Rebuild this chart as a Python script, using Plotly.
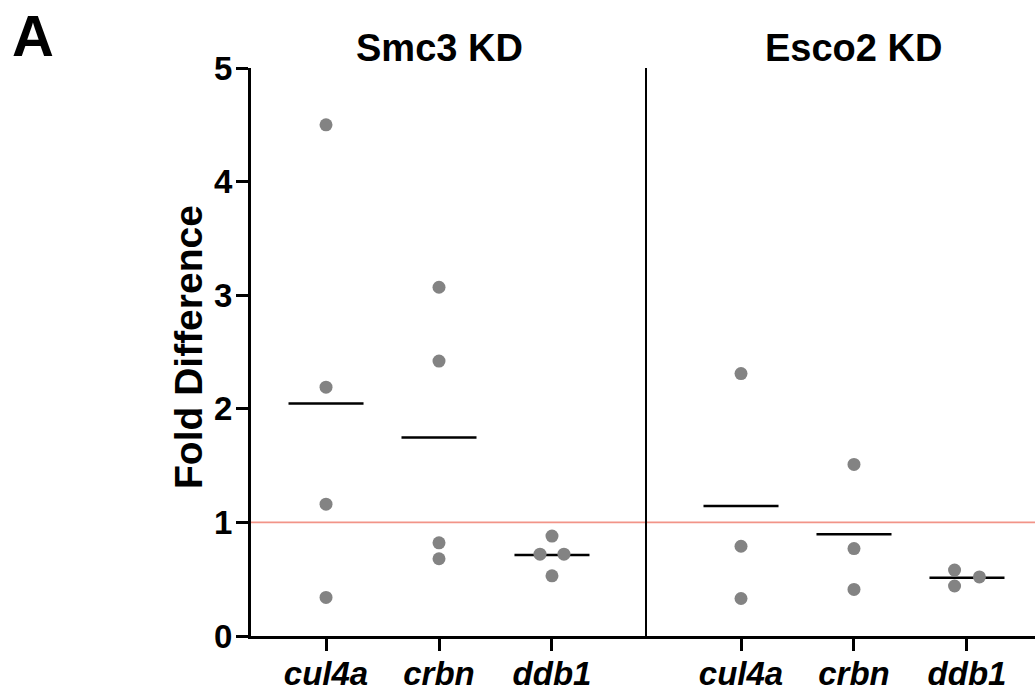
import numpy as np
import plotly.graph_objects as go

# ---- data ----
genes = ["cul4a", "crbn", "ddb1"]
panels = ["Smc3 KD", "Esco2 KD"]

smc3_cul4a = [4.50, 2.19, 1.16, 0.34]
smc3_crbn = [3.07, 2.42, 0.82, 0.68]
smc3_ddb1 = [0.88, 0.72, 0.72, 0.53]

esco2_cul4a = [2.31, 0.79, 0.33]
esco2_crbn = [1.51, 0.77, 0.41]
esco2_ddb1 = [0.58, 0.52, 0.44]

reference_level = 1.0
y_ticks = [0, 1, 2, 3, 4, 5]

# horizontal spread used for overlapping points (scatter-dot-plot style)
spread = {
    ("Smc3 KD", "ddb1"): [0, -0.106, 0.106, 0],
    ("Esco2 KD", "ddb1"): [-0.11, 0.11, -0.11],
}

series = {
    "Smc3 KD": [smc3_cul4a, smc3_crbn, smc3_ddb1],
    "Esco2 KD": [esco2_cul4a, esco2_crbn, esco2_ddb1],
}

# ---- style ----
FONT = "Liberation Sans, Arial, Helvetica, sans-serif"
DOT = "#838383"
BLACK = "#000000"
RED = "#F29488"
HALF = 0.332

fig = go.Figure()
axes = [("x", "y"), ("x2", "y2")]

for (xa, ya), panel in zip(axes, panels):
    vals_list = series[panel]
    # mean lines
    for i, vals in enumerate(vals_list):
        m = float(np.mean(vals))
        fig.add_trace(go.Scatter(
            x=[i - HALF, i + HALF], y=[m, m], mode="lines",
            line=dict(color=BLACK, width=2.5), xaxis=xa, yaxis=ya,
            showlegend=False, hoverinfo="skip"))
    # dots
    for i, (g, vals) in enumerate(zip(genes, vals_list)):
        offs = spread.get((panel, g), [0] * len(vals))
        fig.add_trace(go.Scatter(
            x=[i + o for o in offs], y=vals, mode="markers",
            marker=dict(color=DOT, size=13, line=dict(width=0)),
            xaxis=xa, yaxis=ya, showlegend=False, name=f"{panel} {g}"))

d = (647 - 251) / 784

tickfont_x = dict(family=FONT, size=33, color=BLACK, weight="bold", style="italic")
tickfont_y = dict(family=FONT, size=33, color=BLACK, weight="bold")

common_x = dict(
    tickmode="array", tickvals=[0, 1, 2], ticktext=genes,
    showline=True, linecolor=BLACK, linewidth=3,
    ticks="outside", ticklen=12, tickwidth=3, tickcolor=BLACK,
    showgrid=False, zeroline=False, tickfont=tickfont_x, fixedrange=True,
    automargin=False, ticklabelstandoff=-6,
)

fig.update_layout(
    width=1035, height=693,
    margin=dict(l=251, r=0, t=68, b=57, autoexpand=False),
    paper_bgcolor="white", plot_bgcolor="white",
    showlegend=False,
    xaxis=dict(domain=[0, d], range=[-0.664, 2.841], anchor="y", **common_x),
    xaxis2=dict(domain=[d, 1], range=[-0.832, 2.602], anchor="y2", **common_x),
    yaxis=dict(
        range=[0, 5], tickmode="array", tickvals=y_ticks,
        showline=True, linecolor=BLACK, linewidth=3,
        ticks="outside", ticklen=12, tickwidth=3, tickcolor=BLACK,
        showgrid=False, zeroline=False, tickfont=tickfont_y, anchor="x",
        automargin=False, ticklabelstandoff=-3,
    ),
    yaxis2=dict(
        range=[0, 5], showline=True, linecolor=BLACK, linewidth=2,
        showticklabels=False, ticks="", showgrid=False, zeroline=False,
        anchor="x2", automargin=False,
    ),
    shapes=[dict(
        type="line", xref="paper", x0=0, x1=1, yref="y",
        y0=reference_level, y1=reference_level,
        line=dict(color=RED, width=1.8), layer="below")],
)

# panel titles centred over middle category of each panel
for xa, panel in zip(["x", "x2"], panels):
    fig.add_annotation(text=panel, xref=xa, yref="paper", x=1, y=1,
                       yshift=20, yanchor="middle", showarrow=False,
                       font=dict(family=FONT, size=38, color=BLACK, weight="bold"))

# y axis title
fig.add_annotation(text="Fold Difference", textangle=-90, xref="paper", yref="paper",
                   x=0, y=0.5, xshift=-63, yshift=5, xanchor="center", yanchor="middle",
                   showarrow=False,
                   font=dict(family=FONT, size=39, color=BLACK, weight="bold"))

# panel letter
fig.add_annotation(text="A", xref="paper", yref="paper", x=0, y=1,
                   xshift=-218, yshift=67, xanchor="center", yanchor="top",
                   showarrow=False,
                   font=dict(family=FONT, size=58, color=BLACK, weight="bold"))

fig.write_html(
    "out.html",
    config={"displayModeBar": False},
    post_script="document.body.style.margin='0';document.body.style.overflow='hidden';",
)
